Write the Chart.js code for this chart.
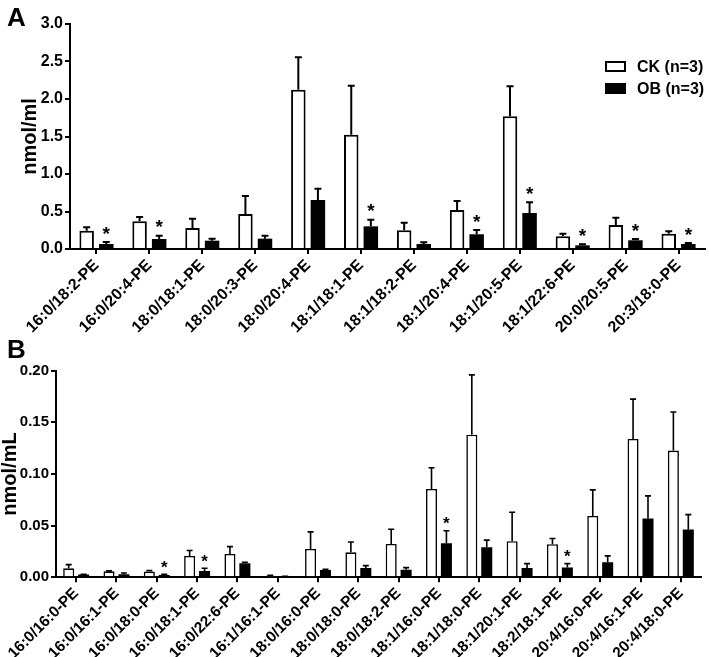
<!DOCTYPE html>
<html>
<head>
<meta charset="utf-8">
<script src="https://cdn.jsdelivr.net/npm/chart.js@4.4.1/dist/chart.umd.min.js"></script>
<style>
  html, body { margin: 0; padding: 0; background: #fff; }
  #wrap { position: relative; width: 709px; height: 657px; }
  canvas { position: absolute; left: 0; }
  #chartA { top: 0; }
  #chartB { top: 335px; }
</style>
</head>
<body>
<div id="wrap">
  <canvas id="chartA" width="709" height="335"></canvas>
  <canvas id="chartB" width="709" height="322"></canvas>
</div>
<script>
const seriesNames = ['CK (n=3)', 'OB (n=3)'];

// panel A
const labelsA = ['16:0/18:2-PE', '16:0/20:4-PE', '18:0/18:1-PE', '18:0/20:3-PE', '18:0/20:4-PE', '18:1/18:1-PE',
    '18:1/18:2-PE', '18:1/20:4-PE', '18:1/20:5-PE', '18:1/22:6-PE', '20:0/20:5-PE', '20:3/18:0-PE'];
const ckA = [0.244, 0.369, 0.28, 0.467, 2.124, 1.524, 0.249, 0.52, 1.769, 0.169, 0.32, 0.204];
const ckErrA = [0.045, 0.058, 0.124, 0.24, 0.432, 0.654, 0.102, 0.12, 0.40, 0.035, 0.098, 0.032];
const obA = [0.067, 0.133, 0.111, 0.138, 0.653, 0.302, 0.067, 0.196, 0.48, 0.049, 0.116, 0.067];
const obErrA = [0.026, 0.045, 0.027, 0.04, 0.151, 0.089, 0.022, 0.057, 0.142, 0.013, 0.017, 0.013];
const starsA = [0, 1, 5, 7, 8, 9, 10, 11];
const ticksA = ['0.0', '0.5', '1.0', '1.5', '2.0', '2.5', '3.0'];

// panel B
const labelsB = ['16:0/16:0-PE', '16:0/16:1-PE', '16:0/18:0-PE', '16:0/18:1-PE', '16:0/22:6-PE', '16:1/16:1-PE',
    '18:0/16:0-PE', '18:0/18:0-PE', '18:0/18:2-PE', '18:1/16:0-PE', '18:1/18:0-PE', '18:1/20:1-PE',
    '18:2/18:1-PE', '20:4/16:0-PE', '20:4/16:1-PE', '20:4/18:0-PE'];
const ckB = [0.0087, 0.0058, 0.0055, 0.0207, 0.0226, 0.0016, 0.0275, 0.0242, 0.0323, 0.0856, 0.138, 0.0349, 0.032, 0.0594, 0.134, 0.1227];
const ckErrB = [0.0036, 0.0004, 0.001, 0.0053, 0.0071, 0.0004, 0.0165, 0.01, 0.0142, 0.0204, 0.058, 0.0281, 0.0055, 0.0252, 0.0385, 0.0373];
const obB = [0.0026, 0.003, 0.0023, 0.006, 0.0136, 0.001, 0.0071, 0.009, 0.0074, 0.033, 0.029, 0.009, 0.0094, 0.0145, 0.057, 0.0462];
const obErrB = [0.0004, 0.0012, 0.0007, 0.0027, 0.0009, 0, 0.0007, 0.0023, 0.002, 0.012, 0.007, 0.0042, 0.0038, 0.0062, 0.0218, 0.0145];
const starsB = [2, 3, 9, 12];
const ticksB = ['0.00', '0.05', '0.10', '0.15', '0.20'];

const FONT = "'Liberation Sans', Arial, sans-serif";

// error bars (upper only) and the * marks over the OB bars
const errorBars = {
    id: 'errorBars',
    afterDatasetsDraw(chart, args, opts) {
        const ctx = chart.ctx;
        const yScale = chart.scales.y;
        ctx.save();
        ctx.strokeStyle = '#000';
        ctx.fillStyle = '#000';
        ctx.lineWidth = opts.lineWidth;
        chart.data.datasets.forEach((ds, di) => {
            const meta = chart.getDatasetMeta(di);
            meta.data.forEach((bar, i) => {
                const top = yScale.getPixelForValue(ds.data[i] + ds.errors[i]);
                ctx.beginPath();
                ctx.moveTo(bar.x, bar.y);
                ctx.lineTo(bar.x, top);
                ctx.moveTo(bar.x - opts.cap, top);
                ctx.lineTo(bar.x + opts.cap, top);
                ctx.stroke();
                if (ds.stars && ds.stars.includes(i)) {
                    ctx.font = 'bold ' + opts.starSize + 'px ' + FONT;
                    ctx.textAlign = 'center';
                    ctx.textBaseline = 'alphabetic';
                    ctx.fillText('*', bar.x, top - opts.starGap);
                }
            });
        });
        ctx.restore();
    }
};

// panel letter and the boxed legend
const panelDecor = {
    id: 'panelDecor',
    afterDraw(chart, args, opts) {
        const ctx = chart.ctx;
        ctx.save();
        ctx.fillStyle = '#000';
        ctx.textAlign = 'left';
        ctx.textBaseline = 'alphabetic';
        ctx.font = 'bold 26px ' + FONT;
        ctx.fillText(opts.letter, opts.letterX, opts.letterY);
        if (opts.legend) {
            const lg = opts.legend;
            ctx.font = 'bold 16px ' + FONT;
            ctx.textBaseline = 'middle';
            chart.data.datasets.forEach((ds, i) => {
                const y = lg.y + i * lg.rowGap;
                if (ds.backgroundColor === '#000') {
                    ctx.fillRect(lg.x, y, lg.w, lg.h);
                } else {
                    ctx.lineWidth = 2;
                    ctx.strokeRect(lg.x + 1, y + 1, lg.w - 2, lg.h - 2);
                }
                ctx.fillText(ds.label, lg.x + lg.w + 11, y + lg.h / 2 + 1);
            });
        }
        ctx.restore();
    }
};

function makeChart(canvasId, cfg) {
    const datasets = [
        {
            label: seriesNames[0],
            data: cfg.ck,
            errors: cfg.ckErr,
            backgroundColor: '#fff',
            borderColor: '#000',
            borderWidth: cfg.lineWidth,
            borderSkipped: 'start'
        },
        {
            label: seriesNames[1],
            data: cfg.ob,
            errors: cfg.obErr,
            stars: cfg.stars,
            backgroundColor: '#000',
            borderColor: '#000',
            borderWidth: 0
        }
    ];
    const axisGrid = { display: true, drawOnChartArea: false, drawTicks: true, tickLength: 5, color: '#000', lineWidth: 2, offset: false };
    return new Chart(document.getElementById(canvasId), {
        type: 'bar',
        data: { labels: cfg.labels, datasets: datasets },
        plugins: [errorBars, panelDecor],
        options: {
            responsive: false,
            animation: false,
            categoryPercentage: 0.74,
            barPercentage: 0.74,
            layout: { padding: cfg.padding },
            plugins: {
                legend: { display: false },
                tooltip: { enabled: false },
                errorBars: { lineWidth: cfg.lineWidth, cap: cfg.cap, starSize: cfg.starSize, starGap: cfg.starGap },
                panelDecor: cfg.decor
            },
            scales: {
                x: {
                    grid: axisGrid,
                    border: { display: true, color: '#000', width: 2 },
                    ticks: {
                        color: '#000',
                        autoSkip: false,
                        minRotation: 45,
                        maxRotation: 45,
                        padding: 2,
                        font: { family: FONT, size: cfg.xFont, weight: 'bold' }
                    },
                    afterFit: (scale) => { scale.height = cfg.xHeight; }
                },
                y: {
                    min: 0,
                    max: cfg.max,
                    grid: axisGrid,
                    border: { display: true, color: '#000', width: 2 },
                    ticks: {
                        stepSize: cfg.step,
                        color: '#000',
                        padding: 2,
                        font: { family: FONT, size: cfg.yFont, weight: 'bold' },
                        callback: (v, i) => cfg.ticks[i]
                    },
                    title: {
                        display: true,
                        text: cfg.yTitle,
                        color: '#000',
                        padding: { top: cfg.titlePad, bottom: 0 },
                        font: { family: FONT, size: 20, weight: 'bold', lineHeight: 1 }
                    },
                    afterFit: (scale) => { scale.width = cfg.yWidth; }
                }
            }
        }
    });
}

makeChart('chartA', {
    labels: labelsA, ck: ckA, ckErr: ckErrA, ob: obA, obErr: obErrA, stars: starsA, ticks: ticksA,
    max: 3, step: 0.5, yTitle: 'nmol/ml',
    padding: { top: 24, right: 4, left: 0, bottom: 0 },
    yWidth: 70, xHeight: 86, xFont: 16, yFont: 16, titlePad: 20,
    lineWidth: 2, cap: 3.5, starSize: 19, starGap: 2.5,
    decor: { letter: 'A', letterX: 7, letterY: 26, legend: { x: 605, y: 61, w: 21, h: 11, rowGap: 22 } }
});

makeChart('chartB', {
    labels: labelsB, ck: ckB, ckErr: ckErrB, ob: obB, obErr: obErrB, stars: starsB, ticks: ticksB,
    max: 0.2, step: 0.05, yTitle: 'nmol/mL',
    padding: { top: 35.7, right: 8, left: 0, bottom: 0 },
    yWidth: 56, xHeight: 79.7, xFont: 15.5, yFont: 15, titlePad: 0,
    lineWidth: 1.6, cap: 3, starSize: 17, starGap: 1.5,
    decor: { letter: 'B', letterX: 7, letterY: 358 - 335 }
});
</script>
</body>
</html>
